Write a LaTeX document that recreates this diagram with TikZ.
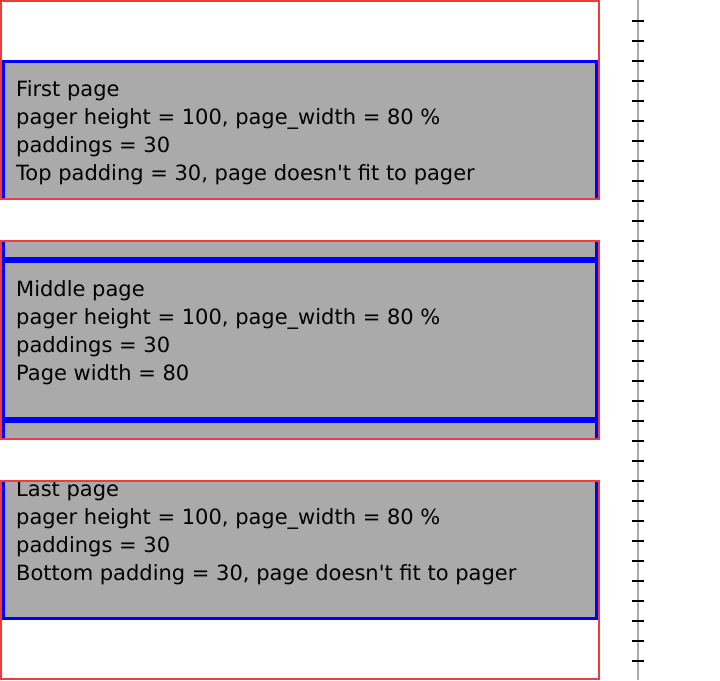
\documentclass[tikz,border=0pt]{standalone}
\usepackage{fontspec}
\setmainfont{DejaVu Sans}[Ligatures=TeXOff]
\definecolor{pagerred}{HTML}{EE3B3B}
\definecolor{pagegray}{HTML}{AAAAAA}
\definecolor{pageblue}{HTML}{0000FF}
\definecolor{rulergray}{HTML}{AAAAAA}
\begin{document}
\begin{tikzpicture}[x=1pt,y=-1pt,
  pagebox/.style={fill=pagegray, draw=pageblue, line width=3pt},
  pagerframe/.style={draw=pagerred, line width=2pt},
  caption/.style={anchor=base west, inner sep=0pt, font=\fontsize{21}{28}\selectfont},
  rulerline/.style={draw=rulergray, line width=2pt},
  rulertick/.style={draw=black, line width=2pt}]
\useasboundingbox (0,0) rectangle (720,680);

% first pager: page pushed down by the top padding
\begin{scope}
  \clip (2,2) rectangle (598,198);
  \draw[pagebox] (3.5,61.5) rectangle (596.5,218.5);
\end{scope}
\node[caption] (firstA) at (16,96) {First page};
\node[caption] (firstB) at (16,124) {pager height = 100, page\_width = 80 \%};
\node[caption] (firstC) at (16,152) {paddings = 30};
\node[caption] (firstD) at (16,180) {Top padding = 30, page doesn't fit to pager};
\draw[pagerframe] (1,1) rectangle (599,199);

% middle pager: neighbours peek in above and below
\begin{scope}
  \clip (2,242) rectangle (598,438);
  \draw[pagebox] (3.5,101.5) rectangle (596.5,258.5);
  \draw[pagebox] (3.5,261.5) rectangle (596.5,418.5);
  \draw[pagebox] (3.5,421.5) rectangle (596.5,578.5);
\end{scope}
\node[caption] (midA) at (16,296) {Middle page};
\node[caption] (midB) at (16,324) {pager height = 100, page\_width = 80 \%};
\node[caption] (midC) at (16,352) {paddings = 30};
\node[caption] (midD) at (16,380) {Page width = 80};
\draw[pagerframe] (1,241) rectangle (599,439);

% last pager: page pulled up by the bottom padding
\begin{scope}
  \clip (2,482) rectangle (598,678);
  \draw[pagebox] (3.5,461.5) rectangle (596.5,618.5);
\end{scope}
\node[caption] (lastA) at (16,496) {Last page};
\node[caption] (lastB) at (16,524) {pager height = 100, page\_width = 80 \%};
\node[caption] (lastC) at (16,552) {paddings = 30};
\node[caption] (lastD) at (16,580) {Bottom padding = 30, page doesn't fit to pager};
\draw[pagerframe] (1,481) rectangle (599,679);

% ruler with a tick every 20 units
\draw[rulerline] (638,0) -- (638,680);
\foreach \k in {1,...,33}
  \draw[rulertick] (632,20*\k+1) -- (644,20*\k+1);
\end{tikzpicture}
\end{document}
